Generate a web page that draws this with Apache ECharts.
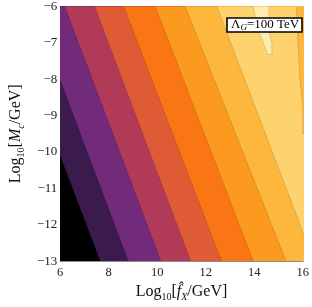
<!DOCTYPE html>
<html><head><meta charset="utf-8">
<script src="https://cdn.jsdelivr.net/npm/echarts@6/dist/echarts.min.js"></script>
<style>html,body{margin:0;padding:0;background:#fff}#c{width:312px;height:307px}</style>
</head><body><div id="c"></div>
<script>
// x range and ticks
const xTicks = [6, 8, 10, 12, 14, 16];
const yTicks = [-13, -12, -11, -10, -9, -8, -7, -6];
// contour boundaries (straight lines): x where each crosses y=-6 (top) and y=-13 (bottom)
const levelTopX    = [3.65, 4.85, 6.19, 7.42, 8.62, 9.92, 11.15, 12.46];
const levelBottomX = [7.65, 8.81, 10.15, 11.38, 12.65, 13.96, 15.31, 16.46];
// band colours, lowest first
const bandColors = ['#000000', '#3b1a4e', '#722a7a', '#b23a59', '#de5b36', '#fa7614', '#fb9a1f', '#fdb73c', '#fed36d'];
// right-edge strip where the value drops back to the yellow-orange band
const rightStrip = [[15.73, -6], [15.88, -8.0], [16, -8.8]];
// pale peak region near top right
const peakTongue = [[13.95, -6], [14.2, -6.7], [14.55, -7.32], [14.73, -7.32], [14.72, -7.0], [14.62, -6.7], [14.6, -6]];
const peakColor = '#feecae';
const legendText = '\u039b_G=100 TeV';

const chart = echarts.init(document.getElementById('c'));
const serif = 'Liberation Serif, Times New Roman, serif';
const frame = '#8c8c8c';

function polyItem(api, pts, color) {
  return {
    type: 'polygon',
    shape: { points: pts.map(p => api.coord(p)) },
    style: { fill: color, stroke: 'rgba(0,0,0,0.22)', lineWidth: 0.6 }
  };
}

const items = [];
for (let i = 0; i < bandColors.length; i++) items.push({ value: [i] });
items.push({ value: [100] });
items.push({ value: [101] });

function lineX(i, y) {
  const xt = levelTopX[i], xb = levelBottomX[i];
  return xt + (xb - xt) * (-6 - y) / 7;
}

const axisLine = { show: true, lineStyle: { color: frame, width: 1 } };
const axisTick = { show: true, inside: true, length: 5, lineStyle: { color: frame, width: 1 } };
const minorX = { show: true, length: 2.5, splitNumber: 4, lineStyle: { color: frame, width: 1 } };
const minorY = { show: true, length: 2.5, splitNumber: 5, lineStyle: { color: frame, width: 1 } };

const nameRich = {
  n: { fontFamily: serif, fontSize: 16, color: '#111', lineHeight: 20 },
  s: { fontFamily: serif, fontSize: 10, color: '#111', lineHeight: 11, verticalAlign: 'bottom' },
  i: { fontFamily: serif, fontSize: 16, fontStyle: 'italic', color: '#111', lineHeight: 20 },
  si: { fontFamily: serif, fontSize: 10, fontStyle: 'italic', color: '#111', lineHeight: 11, verticalAlign: 'bottom' }
};

const lp = legendText.split('_');
chart.setOption({
  animation: false,
  title: {
    text: '{n|' + lp[0] + '}{s|' + lp[1].charAt(0) + '}{n|' + lp[1].slice(1) + '}',
    left: 227, top: 17,
    padding: [1, 3, 0, 4],
    backgroundColor: '#fff', borderColor: '#000', borderWidth: 1.6,
    textStyle: {
      fontWeight: 'normal',
      rich: {
        n: { fontFamily: serif, fontSize: 13, fontWeight: 'normal', color: '#000', lineHeight: 14 },
        s: { fontFamily: serif, fontSize: 9, fontWeight: 'normal', fontStyle: 'italic', color: '#000', lineHeight: 8, verticalAlign: 'bottom' }
      }
    },
    z: 20
  },
  grid: { left: 45, top: 6, right: 7, bottom: 41, containLabel: false },
  xAxis: [
    {
      type: 'value', min: 6, max: 16, interval: 2, position: 'bottom',
      axisLine: axisLine, axisTick: axisTick, minorTick: minorX, splitLine: { show: false },
      axisLabel: { fontFamily: serif, fontSize: 12.5, color: '#222', margin: 5 },
      name: '{n|Log}{s|10}{n|[}{i|f̂}{si|X}{n|/GeV]}',
      nameLocation: 'middle', nameGap: 19,
      nameTextStyle: { rich: nameRich }
    },
    {
      type: 'value', min: 6, max: 16, interval: 2, position: 'top',
      axisLine: axisLine, axisTick: axisTick, minorTick: minorX, splitLine: { show: false },
      axisLabel: { show: false }
    }
  ],
  yAxis: [
    {
      type: 'value', min: -13, max: -6, interval: 1, position: 'left',
      axisLine: axisLine, axisTick: axisTick, minorTick: minorY, splitLine: { show: false },
      axisLabel: { fontFamily: serif, fontSize: 13, color: '#222', margin: 3,
        formatter: v => String(v).replace('-', '\u2212') },
      name: '{n|Log}{s|10}{n|[}{i|M}{si|c}{n|/GeV]}',
      nameLocation: 'middle', nameGap: 30, nameRotate: 90,
      nameTextStyle: { rich: nameRich }
    },
    {
      type: 'value', min: -13, max: -6, interval: 1, position: 'right',
      axisLine: axisLine, axisTick: axisTick, minorTick: minorY, splitLine: { show: false },
      axisLabel: { show: false }
    }
  ],
  series: [{
    type: 'custom',
    coordinateSystem: 'cartesian2d',
    xAxisIndex: 0, yAxisIndex: 0,
    clip: true,
    silent: true,
    z: 1,
    data: items,
    renderItem: function (params, api) {
      const i = api.value(0);
      if (i === 0) {
        return polyItem(api, [[4, -4], [4, -15], [18, -15], [18, -4]], bandColors[0]);
      }
      if (i === 100) {
        const pts = [[rightStrip[0][0], -5]].concat(rightStrip, [[rightStrip[rightStrip.length - 1][0], -9.5], [18, -9.5], [18, -5]]);
        return polyItem(api, pts, bandColors[7]);
      }
      if (i === 101) {
        const pts = [[peakTongue[0][0], -5]].concat(peakTongue, [[peakTongue[peakTongue.length - 1][0], -5]]);
        return polyItem(api, pts, peakColor);
      }
      const b = i - 1;
      return polyItem(api, [[lineX(b, -4), -4], [lineX(b, -15), -15], [20, -15], [20, -4]], bandColors[i]);
    }
  }]
});
</script></body></html>
